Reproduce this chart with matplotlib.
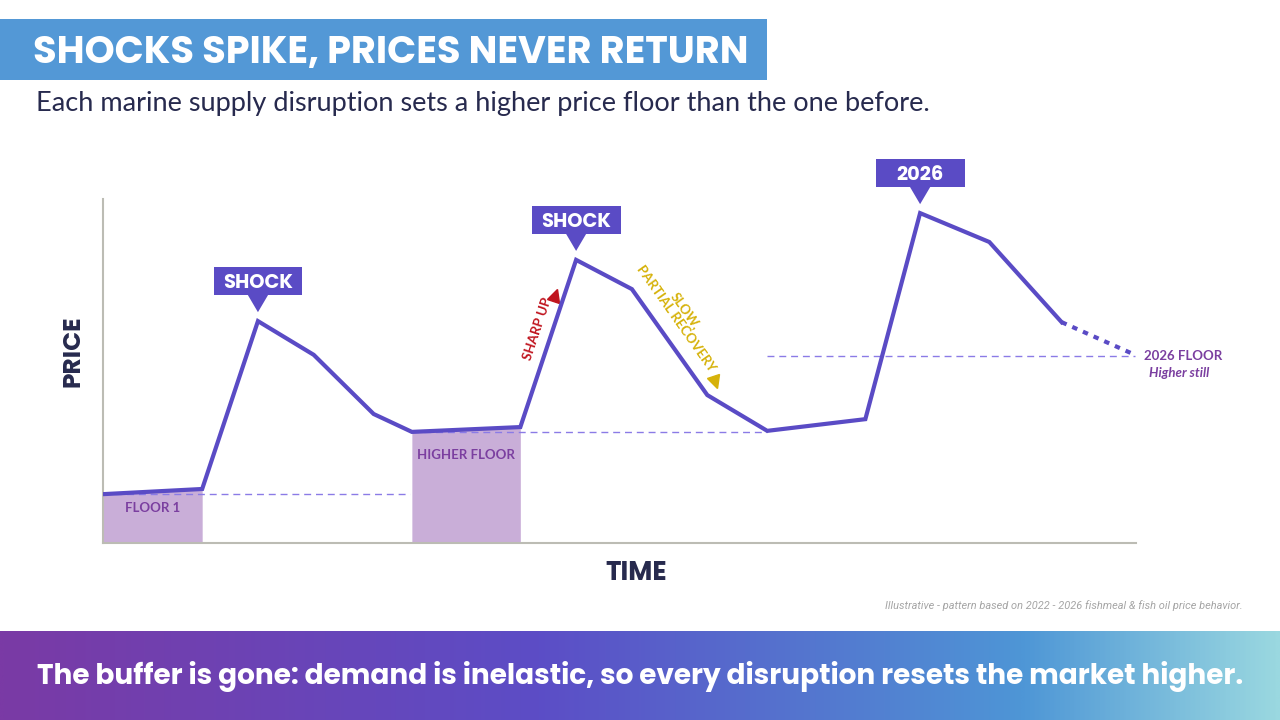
import numpy as np
import matplotlib.pyplot as plt
from matplotlib.colors import LinearSegmentedColormap
from matplotlib.patches import Rectangle, Polygon
from matplotlib.markers import MarkerStyle
from matplotlib.transforms import Affine2D

W, H = 1280, 720

# illustrative price path (time and price as 0-100 index)
time = [0, 9.6, 15.0, 20.4, 26.2, 29.9, 40.4, 45.8, 51.2, 58.5, 64.3, 73.8, 79.1, 85.8, 92.8]
price = [14.2, 15.7, 64.5, 54.7, 37.5, 32.3, 33.7, 82.3, 73.8, 43.0, 32.6, 36.0, 95.9, 87.5, 64.2]
proj_time = [92.8, 99.9]
proj_price = [64.2, 54.7]

floor_levels = [14.2, 32.3, 54.4]
floor_spans = [(0, 29.7), (29.9, 64.3), (64.3, 99.9)]
shade_spans = [(0, 9.6), (29.9, 40.4)]
shade_labels = ["FLOOR 1", "HIGHER FLOOR"]

callout_labels = ["SHOCK", "SHOCK", "2026"]
callout_idx = [2, 7, 12]

LINE = "#5a4bc5"
DASH = "#8b7be6"
SHADE = "#c9aed8"
LABEL = "#7b3fa0"
NAVY = "#272a4e"

fig = plt.figure(figsize=(W / 100, H / 100), dpi=100)


def px(x, y):
    return x / W, 1 - y / H


def fit(t, target_px, axis="w"):
    r = fig.canvas.get_renderer()
    bb = t.get_window_extent(r)
    cur = bb.width if axis == "w" else bb.height
    t.set_fontsize(t.get_fontsize() * target_px / cur)


# background layer
bg = fig.add_axes([0, 0, 1, 1])
bg.axis("off")

grad = LinearSegmentedColormap.from_list(
    "band", [(0, "#7a3aa5"), (0.42, "#5c4dc6"), (0.8, "#4e96d6"), (1, "#9ad8e0")])
g = np.linspace(0, 1, 512).reshape(1, -1)
bg.imshow(g, cmap=grad, extent=[0, W, H, 631], aspect="auto")
bg.set_xlim(0, W)
bg.set_ylim(H, 0)

bg.add_patch(Rectangle((0, 19), 767, 61, color="#5398d6", lw=0))

title = fig.text(*px(33, 53), "SHOCKS SPIKE, PRICES NEVER RETURN", color="white",
                 fontsize=26, fontweight="bold", family=["Poppins", "Inter", "DejaVu Sans"],
                 va="center", ha="left")
sub = fig.text(*px(36, 104), "Each marine supply disruption sets a higher price floor than the one before.",
               color=NAVY, fontsize=17, family=["Lato", "DejaVu Sans"], va="center", ha="left")
foot = fig.text(*px(1243, 606), "Illustrative - pattern based on 2022 - 2026 fishmeal & fish oil price behavior.",
                color="#a5a5a5", fontsize=8, style="italic", family=["Roboto", "DejaVu Sans"],
                va="center", ha="right")
band = fig.text(*px(640, 677), "The buffer is gone: demand is inelastic, so every disruption resets the market higher.",
                color="white", fontsize=20, fontweight="bold", family=["Poppins", "Inter", "DejaVu Sans"],
                va="center", ha="center")
ylab = fig.text(*px(74, 351), "PRICE", color=NAVY, fontsize=17, fontweight="bold", rotation=90,
                family=["Poppins", "Inter", "DejaVu Sans"], va="center", ha="center")
xlab = fig.text(*px(636, 574), "TIME", color=NAVY, fontsize=17, fontweight="bold",
                family=["Poppins", "Inter", "DejaVu Sans"], va="center", ha="center")

fit(title, 715)
fit(sub, 892)
fit(foot, 361)
fit(band, 1209)
fit(ylab, 72, "h")
fit(xlab, 62)

# chart
ax = fig.add_axes([103 / W, 1 - 543 / H, (1136 - 103) / W, (543 - 199) / H])
ax.set_xlim(0, 100)
ax.set_ylim(0, 100)
ax.set_xticks([])
ax.set_yticks([])
for s in ["top", "right"]:
    ax.spines[s].set_visible(False)
for s in ["left", "bottom"]:
    ax.spines[s].set_color("#bcbcb4")
    ax.spines[s].set_linewidth(1.5)

t_arr = np.array(time)
p_arr = np.array(price)
for (a, b), lab in zip(shade_spans, shade_labels):
    m = (t_arr >= a) & (t_arr <= b)
    ax.fill_between(t_arr[m], 0, p_arr[m], color=SHADE, lw=0, zorder=1)
    ly = 10.2 if lab == "FLOOR 1" else 25.6
    ax.text((a + b) / 2, ly, lab, color=LABEL, fontsize=9.5, fontweight="bold",
            family=["Lato", "DejaVu Sans"], ha="center", va="center")

for lvl, (a, b) in zip(floor_levels, floor_spans):
    ax.plot([a, b], [lvl, lvl], color=DASH, lw=1, dashes=(5, 3.5), zorder=2)

ax.plot(time, price, color=LINE, lw=3, solid_joinstyle="miter", zorder=3)
ax.plot(proj_time, proj_price, color=LINE, lw=3, dashes=(1.3, 1.5), zorder=3, clip_on=False)

ax.text(100.8, floor_levels[2], "2026 FLOOR", color=LABEL, fontsize=9.5, fontweight="bold",
        family=["Lato", "DejaVu Sans"], ha="left", va="center", clip_on=False)
ax.text(101.3, floor_levels[2] - 4.9, "Higher still", color=LABEL, fontsize=9.5, fontweight="bold",
        style="italic", family=["Lato", "DejaVu Sans"], ha="left", va="center", clip_on=False)

# callouts above each spike
bw, bh = 8.6, 8.1
for lab, i in zip(callout_labels, callout_idx):
    x0, y0 = time[i], price[i]
    bot = y0 + 7.6
    ax.add_patch(Rectangle((x0 - bw / 2, bot), bw, bh, color=LINE, lw=0, clip_on=False, zorder=4))
    ax.add_patch(Polygon([[x0 - 1.0, bot + 0.1], [x0 + 1.0, bot + 0.1], [x0, y0 + 2.6]],
                         color=LINE, lw=0, clip_on=False, zorder=4))
    ax.text(x0, bot + 2.1, lab, color="white", fontsize=14, fontweight="bold",
            family=["Poppins", "Inter", "DejaVu Sans"], ha="center", va="baseline", zorder=5, clip_on=False)

# direction notes on the middle spike
ax.text(42.1, 62.2, "SHARP UP", color="#c0141e", fontsize=9.5, fontweight="bold", rotation=71.5,
        rotation_mode="anchor", family=["Lato", "DejaVu Sans"], ha="center", va="center")
ax.plot([43.8], [72.0], marker=MarkerStyle("^", transform=Affine2D().rotate_deg(-15)),
        color="#c0141e", ms=9, ls="none")
ax.text(55.9, 66.4, "SLOW,\nPARTIAL RECOVERY", color="#d6b20a", fontsize=9.5, fontweight="bold",
        rotation=-54.7, rotation_mode="anchor", multialignment="center", linespacing=1.0,
        family=["Lato", "DejaVu Sans"], ha="center", va="center")
ax.plot([59.2], [46.9], marker=MarkerStyle("^", transform=Affine2D().rotate_deg(-165)),
        color="#d6b20a", ms=9, ls="none")

fig.savefig("out.png", dpi=100)
